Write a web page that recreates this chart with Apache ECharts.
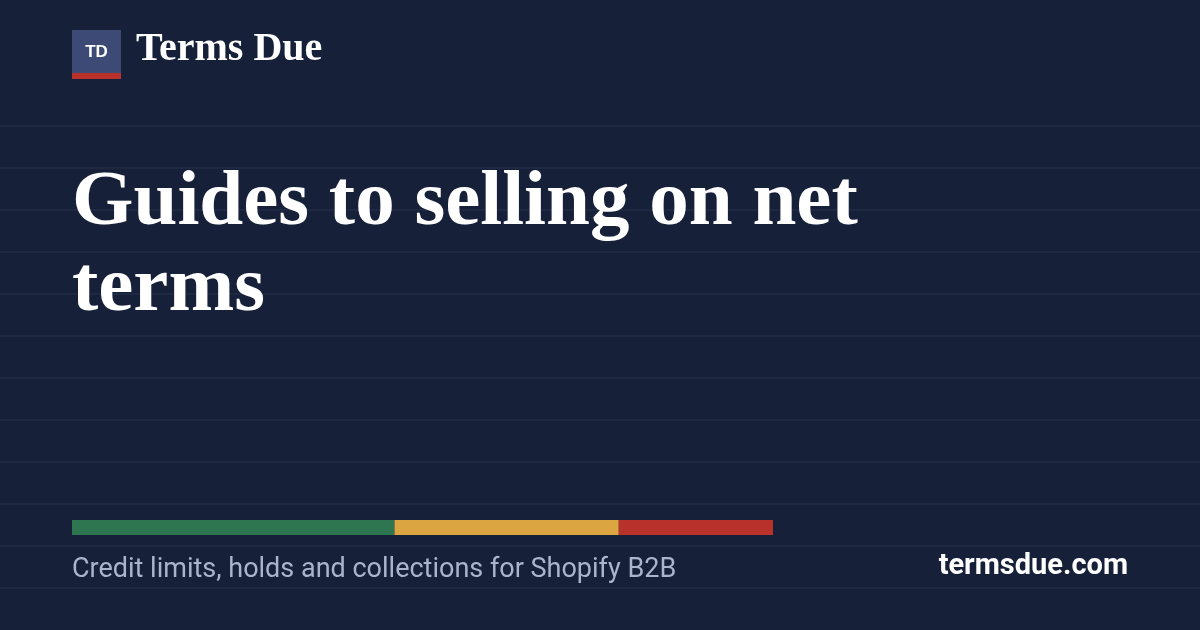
<!DOCTYPE html><html><head><meta charset="utf-8"><script src="https://cdn.jsdelivr.net/npm/echarts@6/dist/echarts.min.js"></script>
<style>html,body{margin:0;background:#162039}#c{width:1200px;height:630px}</style></head><body><div id="c"></div><script>
const segments=['Current','Due soon','Overdue'];
const segmentValues=[46,32,22];
const segmentColors=['#2e7650','#dba541','#b8322b'];
const ruleYs=[126,168,210,252,294,336,378,420,462,504,546,588];
const chart=echarts.init(document.getElementById('c'));
const g=[];
ruleYs.forEach(y=>g.push({type:'line',shape:{x1:0,y1:y,x2:1200,y2:y},style:{stroke:'#27314c',lineWidth:1},silent:true}));
g.push({type:'rect',shape:{x:72,y:30,width:49,height:49},style:{fill:'#3d4a75'}});
g.push({type:'rect',shape:{x:72,y:73,width:49,height:6},style:{fill:'#b8322b'}});
g.push({type:'text',x:96.5,y:52,style:{text:'TD',fill:'#fff',font:'bold 17px "Liberation Sans", Arial',textAlign:'center',textVerticalAlign:'middle'}});
g.push({type:'text',x:136,y:30,style:{text:'Terms Due',fill:'#fff',font:'bold 40px "Liberation Serif", serif'}});
g.push({type:'text',x:72,y:164,style:{text:'Guides to selling on net',fill:'#fff',font:'bold 79px "Liberation Serif", serif'}});
g.push({type:'text',x:72,y:250,style:{text:'terms',fill:'#fff',font:'bold 79px "Liberation Serif", serif'}});
g.push({type:'text',x:72,y:557,style:{text:'Credit limits, holds and collections for Shopify B2B',fill:'#a9b5cc',font:'27px "Roboto", sans-serif'}});
g.push({type:'text',x:1128,y:552,style:{text:'termsdue.com',fill:'#fff',font:'bold 29px "Roboto", sans-serif',textAlign:'right'}});
chart.setOption({
 animation:false,backgroundColor:'#162039',
 grid:{left:72,top:520,width:701,height:15},
 xAxis:{type:'value',min:0,max:100,show:false},
 yAxis:{type:'category',data:['bar'],show:false},
 series:segments.map((n,i)=>({name:n,type:'bar',stack:'s',barWidth:15,data:[segmentValues[i]],itemStyle:{color:segmentColors[i]}})),
 graphic:g
});
</script></body></html>
